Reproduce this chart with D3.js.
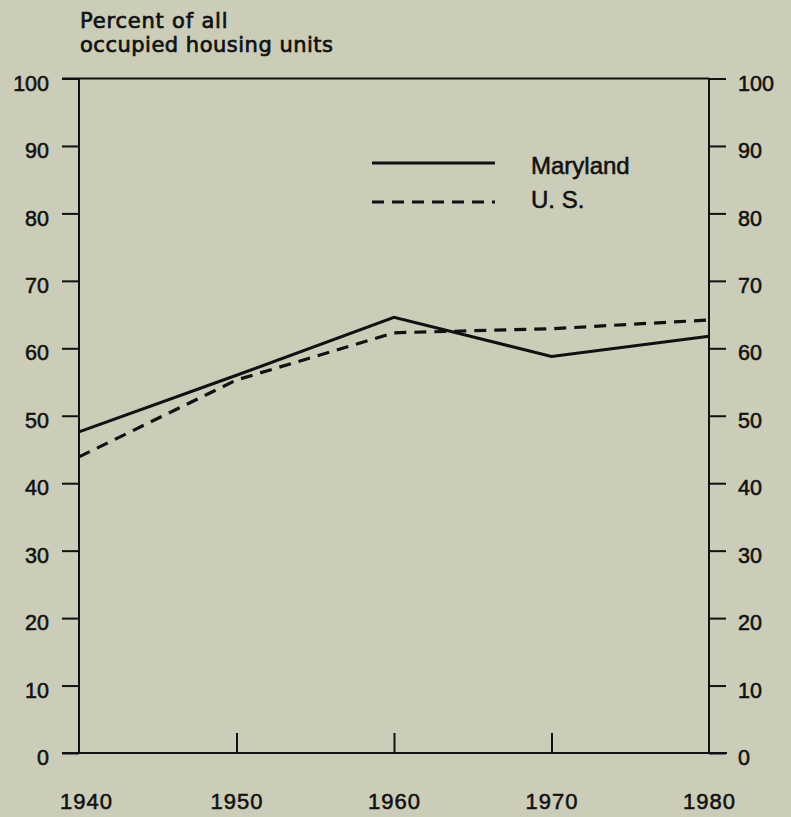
<!DOCTYPE html>
<html><head><meta charset="utf-8">
<script src="https://cdn.jsdelivr.net/npm/d3@7"></script>
<style>
html,body{margin:0;padding:0;background:#cbcdb8;}
svg{display:block;}
text{font-family:"Liberation Sans",Arial,sans-serif;fill:#111;stroke:#111;stroke-width:0.55px;}
</style></head>
<body>
<svg id="chart" width="791" height="817"></svg>
<script>
const years = [1940, 1950, 1960, 1970, 1980];
const maryland = [47.6, 56.0, 64.6, 58.8, 61.8];
const us = [43.9, 55.3, 62.3, 62.9, 64.2];
const yTicks = [0, 10, 20, 30, 40, 50, 60, 70, 80, 90, 100];
const seriesNames = ["Maryland", "U. S."];
const titleLines = ["Percent of all", "occupied housing units"];

const svg = d3.select("#chart");
const x = d3.scaleLinear().domain([1940, 1980]).range([79, 709]);
const y = d3.scaleLinear().domain([0, 100]).range([753, 78.5]);
const ink = "#111";
const FONT = '"Liberation Sans",Arial,sans-serif';

// frame: top line and bottom line
svg.append("line").attr("x1", 62).attr("x2", 709).attr("y1", y(100)).attr("y2", y(100))
  .attr("stroke", ink).attr("stroke-width", 2);
svg.append("line").attr("x1", 62).attr("x2", 727).attr("y1", y(0)).attr("y2", y(0))
  .attr("stroke", ink).attr("stroke-width", 2);

// left axis
const leftAxis = d3.axisLeft(y).tickValues(yTicks).tickSize(17).tickPadding(13);
const gl = svg.append("g").attr("transform", `translate(${x(1940)},0)`).call(leftAxis);
// right axis
const rightAxis = d3.axisRight(y).tickValues(yTicks).tickSize(17).tickPadding(12);
const gr = svg.append("g").attr("transform", `translate(${x(1980)},0)`).call(rightAxis);
// bottom axis (inward ticks)
const bottomAxis = d3.axisBottom(x).tickValues(years).tickFormat(d3.format("d")).tickSize(-20).tickPadding(40);
const gb = svg.append("g").attr("transform", `translate(0,${y(0)})`).call(bottomAxis);

[gl, gr, gb].forEach(g => {
  g.select(".domain").attr("stroke", ink).attr("stroke-width", 2);
  g.selectAll(".tick line").attr("stroke", ink).attr("stroke-width", 2);
  g.selectAll(".tick text").attr("fill", ink).style("font-size", "21.5px")
    .style("font-family", FONT);
});
gl.select(".domain").attr("d", `M0,${y(0)}V${y(100)}`);
gr.select(".domain").attr("d", `M0,${y(0)}V${y(100)}`);
gb.select(".domain").remove();
gb.selectAll(".tick").filter(d => d === 1940 || d === 1980).select("line").remove();
gb.selectAll(".tick text").style("font-size", "22px").attr("letter-spacing", "1px");
gb.selectAll(".tick").filter(d => d === 1940).select("text").attr("dx", 7);
gl.selectAll(".tick text").attr("dy", "0.54em");
gr.selectAll(".tick text").attr("dy", "0.54em");

// lines
const line = d3.line().x((d, i) => x(years[i])).y(d => y(d));
svg.append("path").datum(maryland).attr("d", line).attr("fill", "none")
  .attr("stroke", ink).attr("stroke-width", 3);
svg.append("path").datum(us).attr("d", line).attr("fill", "none")
  .attr("stroke", ink).attr("stroke-width", 3.2).attr("stroke-dasharray", "12,8");

// legend
const leg = svg.append("g");
leg.append("line").attr("x1", 372).attr("x2", 495).attr("y1", 163).attr("y2", 163)
  .attr("stroke", ink).attr("stroke-width", 3);
leg.append("line").attr("x1", 372).attr("x2", 495).attr("y1", 202).attr("y2", 202)
  .attr("stroke", ink).attr("stroke-width", 3.2).attr("stroke-dasharray", "12,8");
leg.append("text").attr("x", 531).attr("y", 174).text(seriesNames[0])
  .style("font-size", "24px");
leg.append("text").attr("x", 531).attr("y", 208).text(seriesNames[1])
  .style("font-size", "24px");

// title
svg.append("text").attr("x", 80).attr("y", 28).text(titleLines[0])
  .style("font-family", '"DejaVu Sans",sans-serif').style("font-size", "21px")
  .attr("letter-spacing", "0.8px").style("stroke-width", "0.7px");
svg.append("text").attr("x", 80).attr("y", 52).text(titleLines[1])
  .style("font-family", '"DejaVu Sans",sans-serif').style("font-size", "21px")
  .attr("letter-spacing", "0.5px").style("stroke-width", "0.7px");
</script>
</body></html>
